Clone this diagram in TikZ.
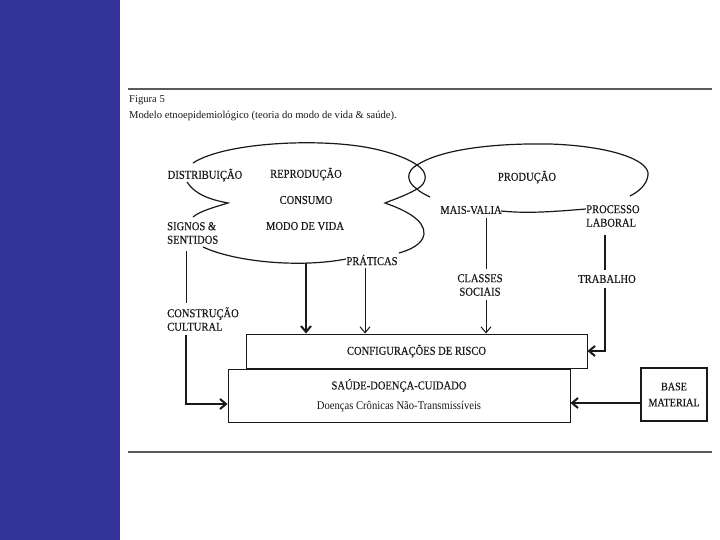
\documentclass[tikz,border=0pt]{standalone}
\usepackage{fontspec}
\setmainfont{Liberation Serif}
\newfontfamily\lab[FakeStretch=0.88,FakeBold=0.35]{Liberation Serif}
\newfontfamily\labthin[FakeStretch=0.9]{Liberation Serif}
\usetikzlibrary{arrows.meta,calc}
\definecolor{barblue}{RGB}{51,51,153}
\definecolor{rulegray}{RGB}{90,90,90}
\definecolor{ink}{RGB}{25,25,25}
\begin{document}
\begin{tikzpicture}[x=1pt,y=-1pt,
  lbl/.style={font=\lab\fontsize{12}{13.5}\selectfont, inner sep=1pt, align=center, text=ink},
  captxt/.style={font=\fontsize{10.6}{12}\selectfont, inner sep=0pt, anchor=west, text=ink},
  curve/.style={draw=ink, line width=1.2pt},
  thinc/.style={draw=ink, line width=1pt},
  thickc/.style={draw=ink, line width=2pt},
  arr/.style={-{Straight Barb[length=6pt,width=10pt]}},
  box/.style={draw=ink, line width=0.9pt, fill=white, inner sep=0pt, align=center,
    font=\lab\fontsize{12}{20}\selectfont, text=ink}
]
\useasboundingbox (0,0) rectangle (720,540);
\fill[barblue] (0,0) rectangle (120,540);
\draw[rulegray, line width=1.6pt] (128,89) -- (712,89);
\draw[rulegray, line width=1.6pt] (128,452) -- (712,452);

% caption
\node[captxt] (fig) at (129,100) {Figura 5};
\node[captxt] (cap) at (129,116) {Modelo etnoepidemiológico (teoria do modo de vida \& saúde).};

% left shape
\draw[curve] (193,163) .. controls (225,142) and (320,138) .. (370,148)
  .. controls (395,153) and (410,160) .. (417,165)
  .. controls (428,172) and (428,183) .. (417,189)
  .. controls (405,196) and (392,200) .. (385,203)
  .. controls (405,210) and (425,220) .. (424,234)
  .. controls (423,244) and (410,250) .. (399,253);
\draw[curve] (203,247) .. controls (235,262) and (300,268) .. (346,259);
\draw[curve] (187,182) .. controls (195,195) and (212,200) .. (228,203)
  .. controls (215,207) and (200,211) .. (193,217);

% right shape
\draw[curve] (430,197) .. controls (424,194) and (420,192) .. (417,189)
  .. controls (406,182) and (406,171) .. (417,165)
  .. controls (440,150) and (490,143) .. (550,144)
  .. controls (610,146) and (650,160) .. (648,175)
  .. controls (647,185) and (638,192) .. (630,196);
\draw[curve] (501,211) .. controls (530,214) and (560,211) .. (586,209);

% labels
\node[lbl] (distr) at (205,175) {DISTRIBUIÇÃO};
\node[lbl] (repro) at (306,174) {REPRODUÇÃO};
\node[lbl] (cons) at (306,200) {CONSUMO};
\node[lbl] (modo) at (305,226) {MODO DE VIDA};
\node[lbl, align=left, anchor=west] (signos) at (166,233) {SIGNOS \&\\SENTIDOS};
\node[lbl] (prat) at (372,260) {PRÁTICAS};
\node[lbl] (prod) at (527,177) {PRODUÇÃO};
\node[lbl] (mais) at (471,210) {MAIS-VALIA};
\node[lbl, align=left, anchor=west] (proc) at (585,216) {PROCESSO\\LABORAL};
\node[lbl] (classes) at (480,285) {CLASSES\\SOCIAIS};
\node[lbl] (trab) at (607,279) {TRABALHO};
\node[lbl, align=left, anchor=west] (constr) at (166,319) {CONSTRUÇÃO\\CULTURAL};

% boxes
\node[box, minimum width=341pt, minimum height=34pt] (config) at (416.5,351) {CONFIGURAÇÕES DE RISCO};
\node[box, minimum width=342pt, minimum height=53pt] (saude) at (399,395.5)
  {SAÚDE-DOENÇA-CUIDADO\\{\labthin\fontsize{11.8}{12}\selectfont Doenças Crônicas Não-Transmissíveis}};
\node[box, line width=2pt, minimum width=66pt, minimum height=53pt, font=\lab\fontsize{11.5}{16}\selectfont] (base) at (674,394.5) {BASE\\MATERIAL};

% connectors
\coordinate (s1) at (186,251);
\coordinate (s2) at (186,303);
\coordinate (s3) at (186,335);
\draw[thinc] (s1) -- (s2);
\draw[thickc, arr] (s3) |- ($(saude.west)+(0,8.5)$);

\coordinate (e1) at (306,263);
\draw[thickc, arr] (e1) -- (e1 |- config.north);

\coordinate (p1) at (365,268);
\draw[thinc, arr] (p1) -- (p1 |- config.north);

\coordinate (m1) at (486,218);
\coordinate (m2) at (486,269);
\coordinate (m3) at (486,300);
\draw[thinc] (m1) -- (m2);
\draw[thinc, arr] (m3) -- (m3 |- config.north);

\coordinate (t1) at (605,235);
\coordinate (t2) at (605,270);
\coordinate (t3) at (605,288);
\draw[thickc] (t1) -- (t2);
\draw[thickc, arr] (t3) |- (config.east);

\coordinate (b1) at ($(base.west)+(0,8.5)$);
\draw[thickc, arr] (b1) -- (b1 -| saude.east);
\end{tikzpicture}
\end{document}
